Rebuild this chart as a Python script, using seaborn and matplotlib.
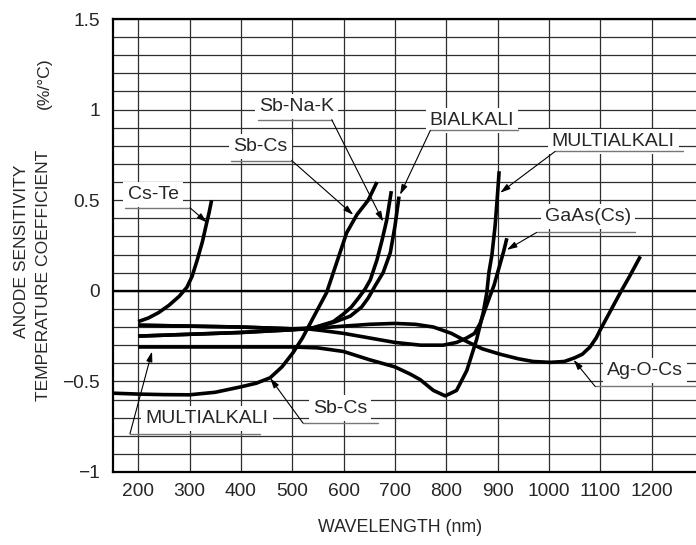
"""
Anode sensitivity temperature coefficient vs wavelength for several photocathodes
"""

import numpy as np
import pandas as pd
import matplotlib
matplotlib.use('Agg')
import matplotlib.pyplot as plt
import seaborn as sns

# curve data (wavelength in nm, coefficient in %/degC)
cs_te_wl = [200, 220, 240, 260, 280, 295, 305, 315, 325, 333, 338, 343]
cs_te_tc = [-0.17, -0.15, -0.12, -0.08, -0.03, 0.02, 0.08, 0.17, 0.27, 0.37, 0.43, 0.50]

sb_cs_wl = [150, 200, 250, 300, 350, 400, 430, 457, 480, 502, 520, 535, 550, 567, 580,
            593, 606, 626, 648, 665]
sb_cs_tc = [-0.565, -0.57, -0.573, -0.574, -0.56, -0.53, -0.51, -0.48, -0.42, -0.34,
            -0.26, -0.18, -0.10, -0.01, 0.10, 0.21, 0.32, 0.42, 0.50, 0.60]

sb_na_k_wl = [200, 300, 400, 500, 540, 580, 599, 615, 629, 642, 652, 665, 675, 684, 693]
sb_na_k_tc = [-0.25, -0.24, -0.23, -0.215, -0.205, -0.17, -0.13, -0.09, -0.04, 0.01,
              0.06, 0.17, 0.28, 0.39, 0.55]

bialkali_wl = [200, 300, 400, 500, 540, 580, 613, 635, 648, 662, 677, 691, 700, 708]
bialkali_tc = [-0.19, -0.195, -0.20, -0.21, -0.205, -0.175, -0.14, -0.09, -0.04, 0.03,
               0.10, 0.21, 0.355, 0.52]

multi_wl = [200, 300, 400, 500, 550, 600, 650, 700, 730, 749, 775, 798, 820, 840, 859,
            872, 879, 883, 889, 895, 899, 903]
multi_tc = [-0.31, -0.31, -0.31, -0.31, -0.315, -0.335, -0.38, -0.42, -0.46, -0.49,
            -0.55, -0.58, -0.55, -0.44, -0.27, -0.12, -0.01, 0.10, 0.20, 0.355, 0.50, 0.66]

gaas_wl = [200, 300, 400, 500, 530, 560, 600, 650, 700, 750, 794, 820, 840, 855, 866,
           876, 885, 893, 905, 912, 918]
gaas_tc = [-0.19, -0.195, -0.20, -0.21, -0.21, -0.22, -0.235, -0.26, -0.285, -0.30,
           -0.30, -0.285, -0.26, -0.235, -0.18, -0.10, -0.03, 0.03, 0.15, 0.22, 0.29]

ag_o_cs_wl = [200, 300, 400, 500, 530, 600, 650, 700, 740, 775, 810, 840, 870, 905, 940,
              969, 1002, 1030, 1050, 1065, 1080, 1092, 1100, 1120, 1139, 1158, 1178]
ag_o_cs_tc = [-0.25, -0.24, -0.23, -0.215, -0.21, -0.195, -0.185, -0.18, -0.185, -0.20,
              -0.235, -0.28, -0.32, -0.35, -0.375, -0.39, -0.395, -0.39, -0.37, -0.35,
              -0.31, -0.26, -0.215, -0.11, -0.01, 0.085, 0.19]

x_ticks = [200, 300, 400, 500, 600, 700, 800, 900, 1000, 1100, 1200]
y_ticks = [-1, -0.5, 0, 0.5, 1, 1.5]
y_tick_labels = ['\u22121', '\u22120.5', '0', '0.5', '1', '1.5']

# label text, text position, underline span, arrow tip (data units)
labels = [
    ('Cs-Te', (229, 0.53), (175, 301, 0.458), (334, 0.377), 'right'),
    ('Sb-Cs', (438, 0.796), (381, 499, 0.719), (619, 0.419), 'right'),
    ('Sb-Na-K', (509, 1.017), (434, 577, 0.944), (677, 0.382), 'right'),
    ('BIALKALI', (850, 0.94), (769, 940, 0.885), (710, 0.53), 'left'),
    ('MULTIALKALI', (1125, 0.824), (1012, 1261, 0.769), (905, 0.541), 'left'),
    ('GaAs(Cs)', (1076, 0.41), (976, 1168, 0.322), (918, 0.226), 'left'),
    ('Ag-O-Cs', (1187, -0.44), (1090, 1300, -0.528), (1048, -0.381), 'left'),
    ('Sb-Cs', (593, -0.647), (521, 667, -0.73), (457, -0.482), 'left'),
    ('MULTIALKALI', (334, -0.703), (184, 438, -0.789), (227, -0.335), 'left'),
]

curves = {
    'Cs-Te': (cs_te_wl, cs_te_tc),
    'Sb-Cs': (sb_cs_wl, sb_cs_tc),
    'Sb-Na-K': (sb_na_k_wl, sb_na_k_tc),
    'BIALKALI': (bialkali_wl, bialkali_tc),
    'MULTIALKALI': (multi_wl, multi_tc),
    'GaAs(Cs)': (gaas_wl, gaas_tc),
    'Ag-O-Cs': (ag_o_cs_wl, ag_o_cs_tc),
}

frames = []
for name, (wl, tc) in curves.items():
    frames.append(pd.DataFrame({'wavelength': wl, 'coef': tc, 'cathode': name}))
df = pd.concat(frames, ignore_index=True)

sns.set_style('white')
plt.rcParams['font.family'] = ['Liberation Sans', 'DejaVu Sans']
plt.rcParams['axes.unicode_minus'] = True

fig = plt.figure(figsize=(6.96, 5.45), dpi=100)
ax = fig.add_axes([112.5 / 696, 73 / 545, 590.5 / 696, 453 / 545])

# grid
for yv in np.arange(-1, 1.51, 0.1):
    ax.axhline(yv, color='#2e2e2e', lw=0.9, zorder=0)
for xv in x_ticks:
    ax.axvline(xv, color='#2e2e2e', lw=0.9, zorder=0)
ax.axhline(0, color='black', lw=1.7, zorder=1)

sns.lineplot(data=df, x='wavelength', y='coef', units='cathode', estimator=None,
             sort=False, color='black', lw=2.6, ax=ax, zorder=4,
             solid_capstyle='butt', solid_joinstyle='round')

ax.set_xlim(150, 1300)
ax.set_ylim(-1, 1.5)
ax.set_xticks(x_ticks)
ax.set_xticklabels([str(v) for v in x_ticks])
ax.set_yticks(y_ticks)
ax.set_yticklabels(y_tick_labels)
ax.tick_params(length=0, labelsize=13.8, pad=8)
ax.tick_params(axis='y', pad=9)
ax.set_xlabel('')
ax.set_ylabel('')
for side in ['left', 'top', 'bottom', 'right']:
    ax.spines[side].set_linewidth(1.6)
    ax.spines[side].set_color('black')

# labels with underline and leader arrow
for text, (tx, ty), (ux0, ux1, uy), (ax_, ay), side in labels:
    ax.text(tx, ty, text, ha='center', va='center', fontsize=14, zorder=3,
            bbox=dict(fc='white', ec='none', pad=3))
    ax.plot([ux0, ux1], [uy, uy], color='#777777', lw=1.0, zorder=3)
    start = (ux1, uy) if side == 'right' else (ux0, uy)
    ax.annotate('', xy=(ax_, ay), xytext=start, zorder=5,
                arrowprops=dict(arrowstyle='-|>,head_length=0.6,head_width=0.18',
                                color='black', lw=0.8, shrinkA=0, shrinkB=0))

fig.text(400 / 696, 1 - 527 / 545, 'WAVELENGTH (nm)', ha='center', va='center', fontsize=12.8)
fig.text(22 / 696, 1 - 251 / 545, 'ANODE SENSITIVITY', rotation=90,
         ha='center', va='center', fontsize=12.6)
fig.text(44 / 696, 1 - 275.5 / 545, 'TEMPERATURE COEFFICIENT', rotation=90,
         ha='center', va='center', fontsize=12.6)
fig.text(44 / 696, 1 - 83 / 545, '(%/\u00b0C)', rotation=90,
         ha='center', va='center', fontsize=12.6)

fig.savefig('out.png', dpi=100)
